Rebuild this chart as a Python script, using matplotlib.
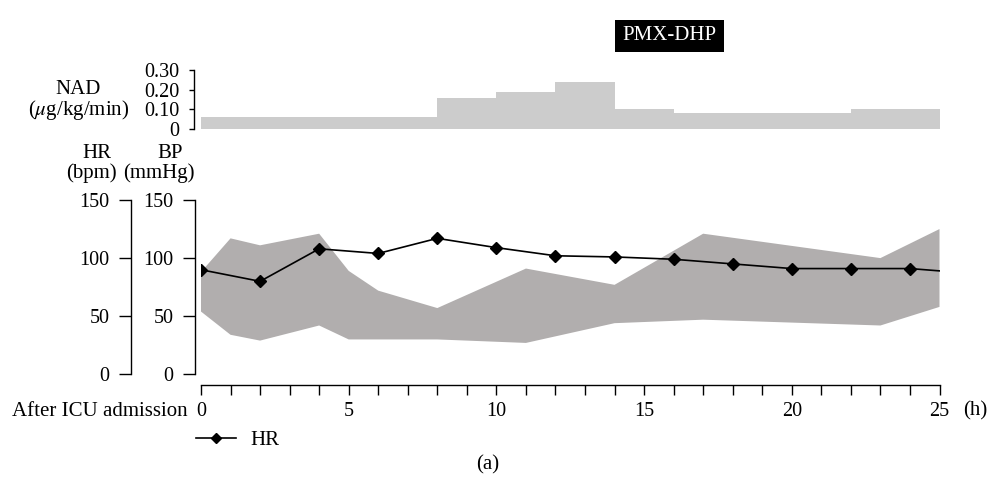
import matplotlib
matplotlib.use("Agg")
import matplotlib.pyplot as plt
import matplotlib.transforms as mtransforms
from matplotlib.patches import Rectangle
from matplotlib.ticker import MultipleLocator
import numpy as np

plt.rcParams['font.family'] = ['Liberation Serif', 'DejaVu Serif']
plt.rcParams['mathtext.fontset'] = 'stix'

# ---- data ----
nad_start = [0, 8, 10, 12, 14, 16, 22]
nad_end = [8, 10, 12, 14, 16, 22, 25]
nad_value = [0.06, 0.16, 0.19, 0.24, 0.10, 0.08, 0.10]

bp_upper_x = [0, 1, 2, 4, 5, 6, 8, 11, 14, 17, 23, 25]
bp_upper = [88, 117, 111, 121, 89, 72, 57, 91, 77, 121, 100, 125]
bp_lower_x = [0, 1, 2, 4, 5, 8, 11, 14, 17, 23, 25]
bp_lower = [54, 34, 29, 42, 30, 30, 27, 44, 47, 42, 58]

hr_x = [0, 2, 4, 6, 8, 10, 12, 14, 16, 18, 20, 22, 24, 25]
hr = [90, 80, 108, 104, 117, 109, 102, 101, 99, 95, 91, 91, 91, 89]

nad_ticks = [0, 0.10, 0.20, 0.30]
nad_ticklabels = ["0", "0.10", "0.20", "0.30"]
bp_ticks = [0, 50, 100, 150]
x_major = [0, 5, 10, 15, 20, 25]

W, H = 991, 487
fig = plt.figure(figsize=(W / 100, H / 100), dpi=100)

def fx(px):
    return px / W

def fy(py):
    return (H - py) / H

x0_px, x25_px = 201, 939.5
FS = 15
TFS = 14.5
px2pt = 0.72

# ---- NAD axes ----
axn = fig.add_axes([fx(x0_px), fy(129), fx(x25_px - x0_px), (129 - 70) / H])
axn.bar(nad_start, np.array(nad_value), width=np.array(nad_end) - np.array(nad_start),
        align='edge', color='#cccccc', edgecolor='none')
axn.set_xlim(0, 25)
axn.set_ylim(0, 0.30)
for s in ['top', 'right', 'bottom']:
    axn.spines[s].set_visible(False)
axn.spines['left'].set_position(('outward', 7 * px2pt))
axn.spines['left'].set_linewidth(1.0)
axn.set_xticks([])
axn.set_yticks(nad_ticks)
axn.set_yticklabels(nad_ticklabels)
axn.tick_params(axis='y', direction='out', length=5 * px2pt, width=1.0, pad=7, labelsize=TFS)

# ---- main BP/HR axes ----
ax = fig.add_axes([fx(x0_px), fy(374.3), fx(x25_px - x0_px), (374.3 - 200) / H])
poly_x = np.concatenate([bp_upper_x, bp_lower_x[::-1]])
poly_y = np.concatenate([bp_upper, bp_lower[::-1]])
ax.fill(poly_x, poly_y, color='#b1aeae', edgecolor='none', zorder=1)
line, = ax.plot(hr_x, hr, color='black', lw=1.2, marker='D', markersize=6,
                markevery=list(range(len(hr_x) - 1)), zorder=3, label='HR')
ax.set_xlim(0, 25)
ax.set_ylim(0, 150)
for s in ['top', 'right']:
    ax.spines[s].set_visible(False)
ax.spines['left'].set_position(('outward', 6 * px2pt))
ax.spines['bottom'].set_position(('outward', 10.7 * px2pt))
ax.spines['bottom'].set_bounds(0, 25)
for s in ['left', 'bottom']:
    ax.spines[s].set_linewidth(1.0)
ax.set_yticks(bp_ticks)
ax.tick_params(axis='y', direction='out', length=12 * px2pt, width=1.0, pad=7, labelsize=TFS)
ax.set_xticks(x_major)
ax.xaxis.set_minor_locator(MultipleLocator(1))
ax.tick_params(axis='x', which='both', direction='out', length=10 * px2pt, width=1.0,
               pad=5, labelsize=TFS)

# HR axis (same scale)
axh = ax.twinx()
axh.set_ylim(0, 150)
axh.yaxis.set_ticks_position('left')
axh.yaxis.set_label_position('left')
for s in ['top', 'right', 'bottom']:
    axh.spines[s].set_visible(False)
axh.spines['left'].set_visible(True)
axh.spines['left'].set_position(('outward', 70 * px2pt))
axh.spines['left'].set_linewidth(1.0)
axh.set_yticks(bp_ticks)
axh.tick_params(axis='y', direction='out', length=12 * px2pt, width=1.0, pad=7, labelsize=TFS)

# ---- labels ----
fig.text(fx(78), fy(90), "NAD", ha='center', va='center', fontsize=FS)
fig.text(fx(79), fy(110), r"($\mu$g/kg/min)", ha='center', va='center', fontsize=FS)
fig.text(fx(97), fy(154), "HR", ha='center', va='center', fontsize=FS)
fig.text(fx(91), fy(173), "(bpm)", ha='center', va='center', fontsize=FS)
fig.text(fx(170), fy(154), "BP", ha='center', va='center', fontsize=FS)
fig.text(fx(159), fy(173), "(mmHg)", ha='center', va='center', fontsize=FS)
fig.text(fx(188), fy(411), "After ICU admission", ha='right', va='center', fontsize=FS)
fig.text(fx(963), fy(411), "(h)", ha='left', va='center', fontsize=FS)
fig.text(fx(488), fy(465), "(a)", ha='center', va='center', fontsize=FS)

# PMX-DHP box
trans = mtransforms.blended_transform_factory(axn.transData, fig.transFigure)
box_x0, box_x1 = 14, 17.7
rect = Rectangle((box_x0, fy(52)), box_x1 - box_x0, (52 - 20) / H, transform=trans,
                 facecolor='black', edgecolor='none', clip_on=False)
fig.add_artist(rect)
fig.text((box_x0 + box_x1) / 2, fy(36), "PMX-DHP", transform=trans, ha='center', va='center',
         color='white', fontsize=FS)

# legend
leg = fig.legend(handles=[line], labels=['HR'], loc='center left',
                 bbox_to_anchor=(fx(188), fy(440)), frameon=False, fontsize=FS,
                 handlelength=1.9, handletextpad=0.7, borderaxespad=0, markerscale=0.9)

fig.savefig("out.png", dpi=100)
